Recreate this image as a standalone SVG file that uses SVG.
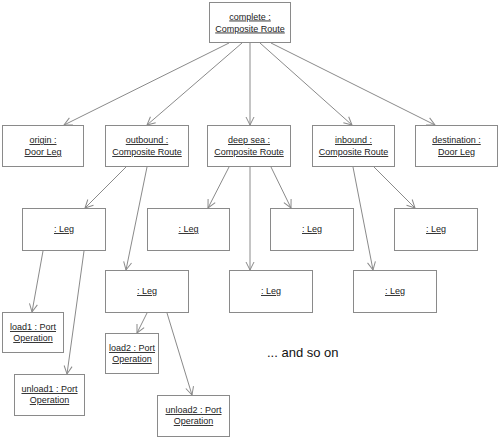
<svg xmlns="http://www.w3.org/2000/svg" width="500" height="438" viewBox="0 0 500 438">
<style>
.box{fill:#fff;stroke:#8a8a8a;stroke-width:1}
.t{font-family:"Liberation Sans",Arial,sans-serif;font-size:9px;fill:#222;text-anchor:middle;text-decoration:underline}
.c line{stroke:#8a8a8a;stroke-width:1;fill:none}
.note{font-family:"Liberation Sans",Arial,sans-serif;font-size:13px;fill:#111}
</style>
<defs>
<marker id="a" markerWidth="10" markerHeight="10" refX="9" refY="5" orient="auto" markerUnits="userSpaceOnUse">
<path d="M1,1 L9,5 L1,9" fill="none" stroke="#8a8a8a" stroke-width="1"/>
</marker>
</defs>
<rect width="500" height="438" fill="#fff"/>
<g class="c" marker-end="url(#a)">
<line x1="229" y1="43" x2="64" y2="125" marker-end="url(#a)"/>
<line x1="242" y1="43" x2="147" y2="125" marker-end="url(#a)"/>
<line x1="250" y1="43" x2="250" y2="125" marker-end="url(#a)"/>
<line x1="260" y1="43" x2="352" y2="125" marker-end="url(#a)"/>
<line x1="271" y1="43" x2="435" y2="125" marker-end="url(#a)"/>
<line x1="126" y1="167" x2="85" y2="208" marker-end="url(#a)"/>
<line x1="147" y1="167" x2="126" y2="270" marker-end="url(#a)"/>
<line x1="229" y1="167" x2="208" y2="208" marker-end="url(#a)"/>
<line x1="250" y1="167" x2="250" y2="270" marker-end="url(#a)"/>
<line x1="271" y1="167" x2="291" y2="208" marker-end="url(#a)"/>
<line x1="353" y1="167" x2="373" y2="270" marker-end="url(#a)"/>
<line x1="374" y1="167" x2="415" y2="208" marker-end="url(#a)"/>
<line x1="43" y1="251" x2="32" y2="312" marker-end="url(#a)"/>
<line x1="84" y1="251" x2="67" y2="374" marker-end="url(#a)"/>
<line x1="147" y1="313" x2="137" y2="333" marker-end="url(#a)"/>
<line x1="167" y1="313" x2="192" y2="395" marker-end="url(#a)"/>
</g>
<g id="complete"><rect class="box" x="209.5" y="2.5" width="81" height="40"/><text class="t" x="250" y="19.5">complete :</text><text class="t" x="250" y="31.5">Composite Route</text></g>
<g id="origin"><rect class="box" x="2.5" y="125.5" width="81" height="41"/><text class="t" x="43" y="143">origin :</text><text class="t" x="43" y="155">Door Leg</text></g>
<g id="outbound"><rect class="box" x="105.5" y="125.5" width="83" height="41"/><text class="t" x="147" y="143">outbound :</text><text class="t" x="147" y="155">Composite Route</text></g>
<g id="deepsea"><rect class="box" x="207.5" y="125.5" width="83" height="41"/><text class="t" x="249" y="143">deep sea :</text><text class="t" x="249" y="155">Composite Route</text></g>
<g id="inbound"><rect class="box" x="312.5" y="125.5" width="82" height="41"/><text class="t" x="353.5" y="143">inbound :</text><text class="t" x="353.5" y="155">Composite Route</text></g>
<g id="destination"><rect class="box" x="415.5" y="125.5" width="82" height="41"/><text class="t" x="456.5" y="143">destination :</text><text class="t" x="456.5" y="155">Door Leg</text></g>
<g id="leg1"><rect class="box" x="22.5" y="208.5" width="83" height="42"/><text class="t" x="64" y="232">: Leg</text></g>
<g id="leg2"><rect class="box" x="147.5" y="208.5" width="82" height="42"/><text class="t" x="188.5" y="232">: Leg</text></g>
<g id="leg3"><rect class="box" x="270.5" y="208.5" width="83" height="42"/><text class="t" x="312" y="232">: Leg</text></g>
<g id="leg4"><rect class="box" x="394.5" y="208.5" width="83" height="42"/><text class="t" x="436" y="232">: Leg</text></g>
<g id="leg5"><rect class="box" x="105.5" y="270.5" width="83" height="42"/><text class="t" x="147" y="294">: Leg</text></g>
<g id="leg6"><rect class="box" x="229.5" y="270.5" width="83" height="42"/><text class="t" x="271" y="294">: Leg</text></g>
<g id="leg7"><rect class="box" x="353.5" y="270.5" width="83" height="42"/><text class="t" x="395" y="294">: Leg</text></g>
<g id="load1"><rect class="box" x="2.5" y="312.5" width="61" height="40"/><text class="t" x="33" y="330">load1 : Port</text><text class="t" x="33" y="341">Operation</text></g>
<g id="unload1"><rect class="box" x="14.5" y="374.5" width="70" height="41"/><text class="t" x="49.5" y="392">unload1 : Port</text><text class="t" x="49.5" y="403">Operation</text></g>
<g id="load2"><rect class="box" x="105.5" y="333.5" width="53" height="40"/><text class="t" x="132" y="351">load2 : Port</text><text class="t" x="132" y="362">Operation</text></g>
<g id="unload2"><rect class="box" x="157.5" y="395.5" width="72" height="41"/><text class="t" x="193.5" y="413">unload2 : Port</text><text class="t" x="193.5" y="424">Operation</text></g>
<text class="note" x="267" y="357">... and so on</text>
</svg>
